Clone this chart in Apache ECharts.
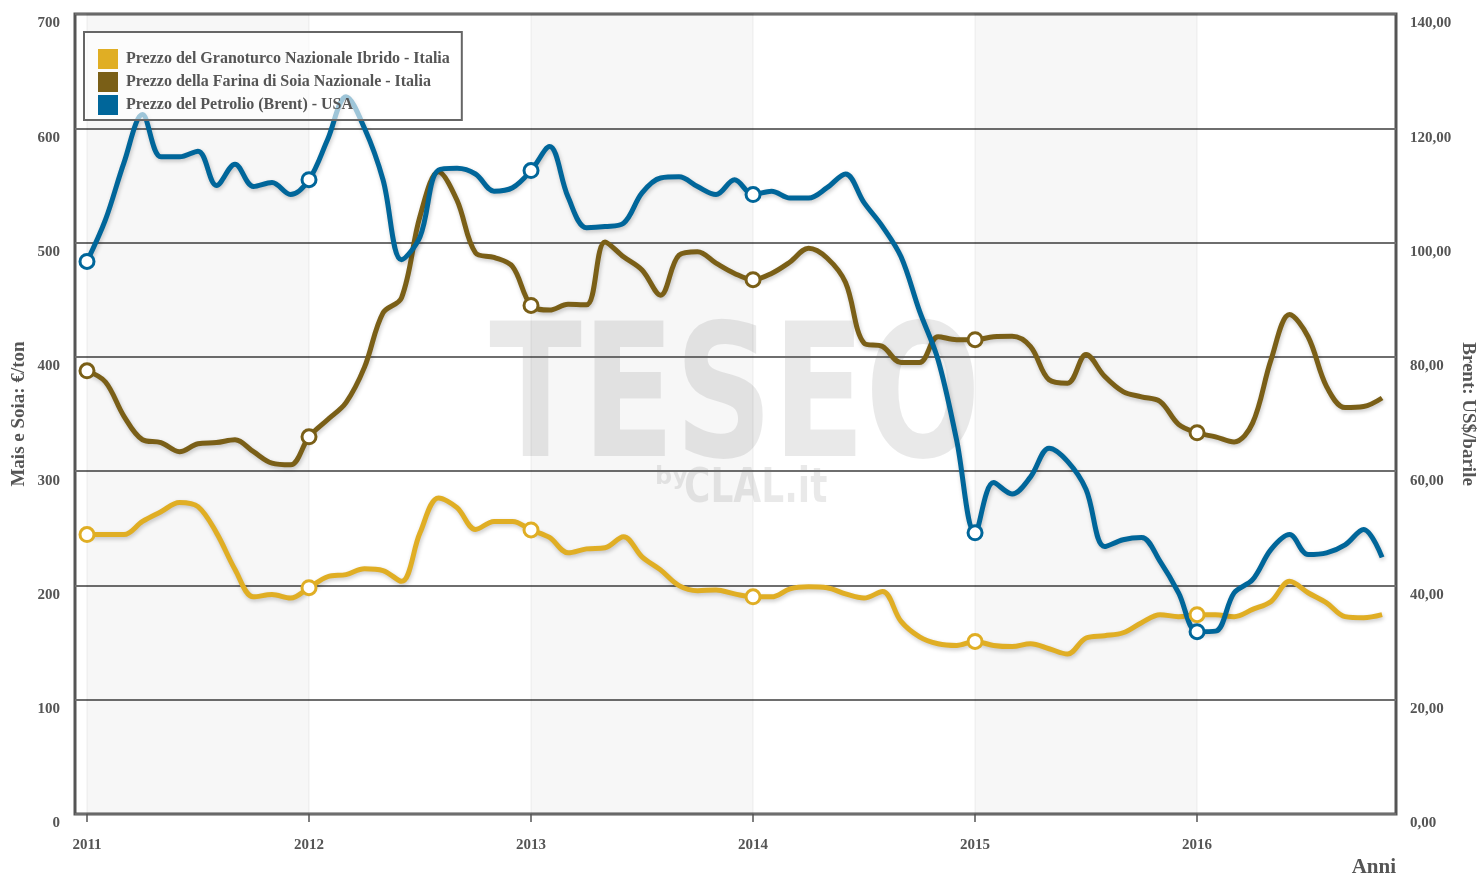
<!DOCTYPE html>
<html>
<head>
<meta charset="utf-8">
<title>Mais, Soia e Brent</title>
<script src="https://cdn.jsdelivr.net/npm/echarts@6/dist/echarts.min.js"></script>
<style>
  html, body { margin: 0; padding: 0; background: #ffffff; }
  #chart { width: 1480px; height: 874px; }
</style>
</head>
<body>
<div id="chart"></div>
<script>
// mesi da gen 2011 a nov 2016 (un punto al mese)
const startYear = 2011
const yearTicks = [2011, 2012, 2013, 2014, 2015, 2016]

// Granoturco (€/ton)
const corn = [244.5, 244.5, 244.5, 256, 264.5, 272.6, 269, 246, 214, 190, 192, 189,
  198, 207.6, 209.5, 214.6, 213, 203.6, 246, 276.5, 268, 249, 256, 256,
  248.6, 242, 228.6, 232, 233, 242.7, 225, 213.6, 199.8, 195.4, 196, 192.6,
  190, 190, 197, 198.8, 198, 192.6, 189, 194.6, 168.5, 155, 149, 147.5,
  151, 147.5, 146.5, 149, 144.6, 140, 154, 156, 158.6, 167.4, 174.4, 172.7,
  174.4, 174.4, 172.7, 179, 186, 203.6, 193.6, 184.8, 172.7, 171.7, 174.4]

// Farina di soia (€/ton)
const soy = [387.8, 378, 348, 327.5, 325, 317, 324, 325, 327.5, 317, 307, 305.5,
  330, 345, 360, 391, 438.5, 451.7, 523, 562, 537, 491, 487, 479,
  445, 441, 446, 445.5, 500.6, 487.6, 476, 454, 489, 492, 482, 473,
  467.5, 473, 483, 495, 486.5, 465, 412, 409, 395, 395, 417.6, 415,
  415, 417.6, 418, 409, 380, 377, 402, 383, 369.6, 365, 361, 341,
  333.6, 330, 325.6, 342, 397.6, 437, 417.6, 374, 355.6, 356.5, 364]

// Brent (US$/barile)
const brent = [96.7, 104, 114, 122.4, 115, 115, 116, 110, 113.7, 109.8, 110.5, 108.4,
  111, 118, 125.5, 120, 111, 97, 101, 112.7, 113, 112, 109, 109.6,
  112.6, 116.8, 108, 102.6, 102.8, 103.4, 108.7, 111.3, 111.5, 109.8, 108.4, 111,
  108.4, 109, 107.8, 107.8, 109.6, 112, 107, 102.8, 97.5, 88, 79.5, 65.5,
  49.2, 58, 56, 59, 64, 61.7, 56.8, 46.8, 48, 48.4, 44.2, 38.7,
  31.9, 32, 38.7, 41, 46.3, 48.9, 45.4, 45.7, 47.1, 49.8, 44.9]

const names = [
  "Prezzo del Granoturco Nazionale Ibrido - Italia",
  "Prezzo della Farina di Soia Nazionale - Italia",
  "Prezzo del Petrolio (Brent) - USA"
]
const colors = ["#e0ae24", "#7a5f17", "#00669a"]

const months = corn.map((v, i) => startYear + i / 12)
const toPoints = vals => vals.map((v, i) => [months[i], v])
const janPoints = vals => toPoints(vals).filter((p, i) => i % 12 === 0)

const font = '"Liberation Serif", "DejaVu Serif", serif'
const textGray = "#555"

function lineSeries(idx, vals, axis) {
  return {
    name: names[idx],
    type: "line",
    yAxisIndex: axis,
    data: toPoints(vals),
    symbol: "none",
    smooth: 0.35,
    z: 2 + idx * 0.1,
    itemStyle: { color: colors[idx] },
    lineStyle: {
      color: colors[idx],
      width: 5,
      shadowColor: "rgba(0,0,0,0.22)",
      shadowBlur: 4,
      shadowOffsetX: 1,
      shadowOffsetY: 2
    }
  }
}

function markerSeries(idx, vals, axis) {
  return {
    name: names[idx] + " (gen)",
    type: "scatter",
    yAxisIndex: axis,
    data: janPoints(vals),
    symbol: "circle",
    symbolSize: 14,
    z: 5,
    itemStyle: { color: "#ffffff", borderColor: colors[idx], borderWidth: 3, opacity: 1 }
  }
}

const chart = echarts.init(document.getElementById("chart"))
chart.setOption({
  animation: false,
  backgroundColor: "#ffffff",
  textStyle: { fontFamily: font },
  grid: {
    left: 75,
    right: 84,
    top: 14,
    bottom: 60,
    outerBoundsMode: "none",
    containLabel: false,
    show: true,
    borderColor: "#555",
    borderWidth: 3
  },
  graphic: [
    {
      type: "text",
      z: -1,
      x: 735,
      y: 408,
      scaleX: 0.73,
      style: {
        text: "TESEO",
        font: 'bold 186px "DejaVu Sans"',
        fill: "rgba(0,0,0,0.085)",
        align: "center",
        verticalAlign: "middle"
      }
    },
    {
      type: "text",
      z: -1,
      x: 655,
      y: 478,
      style: {
        text: "by",
        font: 'bold 24px "DejaVu Sans"',
        fill: "rgba(0,0,0,0.085)",
        align: "left",
        verticalAlign: "middle"
      }
    },
    {
      type: "text",
      z: -1,
      x: 684,
      y: 490,
      scaleX: 0.75,
      style: {
        text: "CLAL.it",
        font: 'bold 48px "DejaVu Sans"',
        fill: "rgba(0,0,0,0.085)",
        align: "left",
        verticalAlign: "middle"
      }
    }
  ],
  legend: {
    data: names,
    orient: "vertical",
    left: 84,
    top: 32,
    padding: [17, 12, 5, 14],
    itemWidth: 20,
    itemHeight: 20,
    itemGap: 3,
    icon: "rect",
    backgroundColor: "rgba(255,255,255,0.62)",
    borderColor: "#666",
    borderWidth: 2,
    itemStyle: { borderWidth: 0 },
    textStyle: {
      fontFamily: font, fontWeight: "bold", fontSize: 16, color: textGray,
      padding: [0, 0, 0, 3]
    }
  },
  xAxis: {
    type: "value",
    min: 2010.946,
    max: 2016.896,
    name: "Anni",
    nameLocation: "end",
    nameGap: 0,
    nameMoveOverlap: false,
    nameTextStyle: {
      fontFamily: font, fontWeight: "bold", fontSize: 21, color: textGray,
      align: "right", verticalAlign: "top", padding: [43, 0, 0, 0]
    },
    axisLine: { show: false },
    splitLine: { show: false },
    axisTick: {
      show: true,
      customValues: yearTicks,
      length: 8,
      lineStyle: { color: "#555", width: 1.5 }
    },
    axisLabel: {
      customValues: yearTicks,
      formatter: v => String(v),
      margin: 24,
      fontFamily: font,
      fontWeight: "bold",
      fontSize: 15,
      color: textGray
    }
  },
  yAxis: [
    {
      type: "value",
      min: 0,
      max: 700,
      interval: 100,
      position: "left",
      name: "Mais e Soia: €/ton",
      nameLocation: "middle",
      nameRotate: 90,
      nameGap: 46,
      nameMoveOverlap: false,
      nameTextStyle: { fontFamily: font, fontWeight: "bold", fontSize: 19, color: textGray },
      axisLine: { show: false },
      axisTick: { show: false },
      axisLabel: {
        margin: 15,
        verticalAlign: "top",
        padding: [2, 0, 0, 0],
        fontFamily: font,
        fontWeight: "bold",
        fontSize: 15,
        color: textGray
      },
      splitLine: { lineStyle: { color: "#6e6e6e", width: 2 } }
    },
    {
      type: "value",
      min: 0,
      max: 140,
      interval: 20,
      position: "right",
      name: "Brent: US$/barile",
      nameLocation: "middle",
      nameRotate: -90,
      nameGap: 62,
      nameMoveOverlap: false,
      nameTextStyle: { fontFamily: font, fontWeight: "bold", fontSize: 19, color: textGray },
      axisLine: { show: false },
      axisTick: { show: false },
      axisLabel: {
        margin: 14,
        verticalAlign: "top",
        padding: [2, 0, 0, 0],
        formatter: v => v.toFixed(2).replace(".", ","),
        fontFamily: font,
        fontWeight: "bold",
        fontSize: 15,
        color: textGray
      },
      splitLine: { show: false }
    }
  ],
  series: [
    Object.assign(lineSeries(0, corn, 0), {
      markArea: {
        silent: true,
        itemStyle: {
          color: "rgba(0,0,0,0.03)",
          borderColor: "rgba(0,0,0,0.03)",
          borderWidth: 2
        },
        data: [
          [{ xAxis: 2011 }, { xAxis: 2012 }],
          [{ xAxis: 2013 }, { xAxis: 2014 }],
          [{ xAxis: 2015 }, { xAxis: 2016 }]
        ]
      }
    }),
    lineSeries(1, soy, 0),
    lineSeries(2, brent, 1),
    markerSeries(0, corn, 0),
    markerSeries(1, soy, 0),
    markerSeries(2, brent, 1)
  ]
})
</script>
</body>
</html>
